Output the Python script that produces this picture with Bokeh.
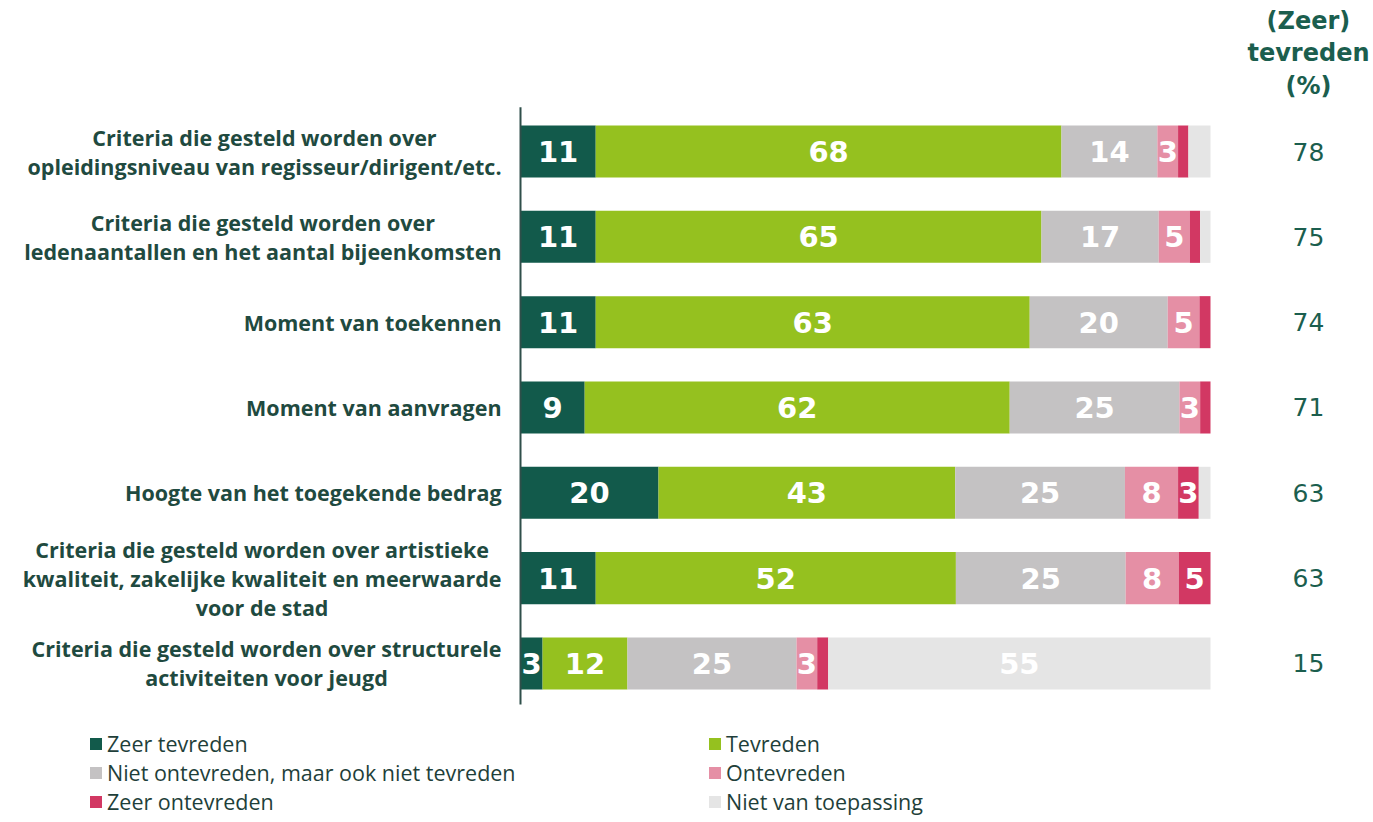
from bokeh.plotting import figure
from bokeh.models import ColumnDataSource, Range1d
from bokeh.core.properties import value
from bokeh.embed import file_html
from bokeh.resources import INLINE

categories = [
    "Criteria die gesteld worden over\nopleidingsniveau van regisseur/dirigent/etc.",
    "Criteria die gesteld worden over\nledenaantallen en het aantal bijeenkomsten",
    "Moment van toekennen",
    "Moment van aanvragen",
    "Hoogte van het toegekende bedrag",
    "Criteria die gesteld worden over artistieke\nkwaliteit, zakelijke kwaliteit en meerwaarde\nvoor de stad",
    "Criteria die gesteld worden over structurele\nactiviteiten voor jeugd",
]
zeer_tevreden = [10.9, 10.9, 10.9, 9.3, 20.0, 10.9, 3.2]
tevreden = [67.5, 64.6, 62.9, 61.6, 43.0, 52.2, 12.3]
niet_ontevreden = [13.9, 17.0, 20.0, 24.6, 24.6, 24.6, 24.5]
ontevreden = [3.0, 4.5, 4.6, 3.0, 7.7, 7.7, 3.0]
zeer_ontevreden = [1.5, 1.5, 1.6, 1.5, 3.0, 4.6, 1.6]
niet_van_toepassing = [3.2, 1.5, 0.0, 0.0, 1.7, 0.0, 55.4]
totaal_tevreden = [78, 75, 74, 71, 63, 63, 15]

series_names = ["Zeer tevreden", "Tevreden", "Niet ontevreden, maar ook niet tevreden",
                "Ontevreden", "Zeer ontevreden", "Niet van toepassing"]
series_values = [zeer_tevreden, tevreden, niet_ontevreden, ontevreden, zeer_ontevreden, niet_van_toepassing]
colors = ["#125a4b", "#95c11f", "#c4c2c3", "#e58fa5", "#d23863", "#e5e5e5"]
label_min = [2.95, 2.95, 2.95, 2.95, 2.95, 5.0]

n = len(categories)
ys = list(range(n))
keys = ["s%d" % i for i in range(len(series_names))]
data = {"y": ys}
for k, vals in zip(keys, series_values):
    data[k] = vals
src = ColumnDataSource(data)

W, H = 1370, 820
px_per_pct = 6.9
px_per_row = 85.33
x0_px, y0_px = 520, 151
p = figure(width=W, height=H,
           x_range=Range1d(-x0_px / px_per_pct, (W - x0_px) / px_per_pct),
           y_range=Range1d((H - y0_px) / px_per_row, -y0_px / px_per_row),
           output_backend="svg", toolbar_location=None, min_border=0,
           x_axis_location=None, y_axis_location=None)
p.grid.visible = False
p.outline_line_color = None
p.background_fill_color = "white"
p.border_fill_color = "white"

p.hbar_stack(keys, y="y", height=0.61, color=colors, line_width=0, line_color=None,
             source=src, legend_label=series_names)

# value labels inside segments
lx, ly, lt = [], [], []
for i in range(n):
    start = 0.0
    for s, vals in enumerate(series_values):
        v = vals[i]
        if v >= label_min[s]:
            lx.append(start + v / 2.0)
            ly.append(i)
            lt.append(str(int(v + 0.5)))
        start += v
p.text(x=lx, y=ly, text=lt, text_color="white", text_font=value("DejaVu Sans"),
       text_font_style="bold", text_font_size="29px", text_align="center", text_baseline="middle")

# axis line
p.segment(x0=[0], y0=[-0.52], x1=[0], y1=[n - 0.52], line_color="#2f4f4a", line_width=2)

# category labels
p.text(x=[-2.75] * n, y=ys, text=categories, text_color="#1f4a40", text_font=value("Open Sans"),
       text_font_style="bold", text_font_size="21.5px", text_align="center",
       anchor=value("center_right"), text_line_height=1.0)

# right column totals
p.text(x=[114.2] * n, y=ys, text=[str(t) for t in totaal_tevreden], text_color="#1b5e4e",
       text_font=value("DejaVu Sans"), text_font_size="25px", text_align="center", text_baseline="middle")

# header
p.text(x=[114.2], y=[-1.15], text=["(Zeer)\ntevreden\n(%)"], text_color="#1b5e4e",
       text_font=value("DejaVu Sans"), text_font_style="bold", text_font_size="24px",
       text_align="center", anchor=value("center"), text_line_height=1.15)

leg = p.legend[0]
leg.orientation = "horizontal"
leg.ncols = 2
leg.location = (88, 4)
leg.margin = 0
leg.padding = 0
leg.spacing = 0
leg.border_line_alpha = 0
leg.background_fill_alpha = 0
leg.glyph_width = 15
leg.glyph_height = 15
leg.label_standoff = 4
leg.label_width = 600
leg.label_height = 28
leg.label_text_font = "Open Sans"
leg.label_text_font_size = "21.5px"
leg.label_text_line_height = 0.9
leg.label_text_color = "#1f3f3a"
leg.label_text_baseline = "middle"

open("out.html", "w").write(file_html(p, INLINE))
